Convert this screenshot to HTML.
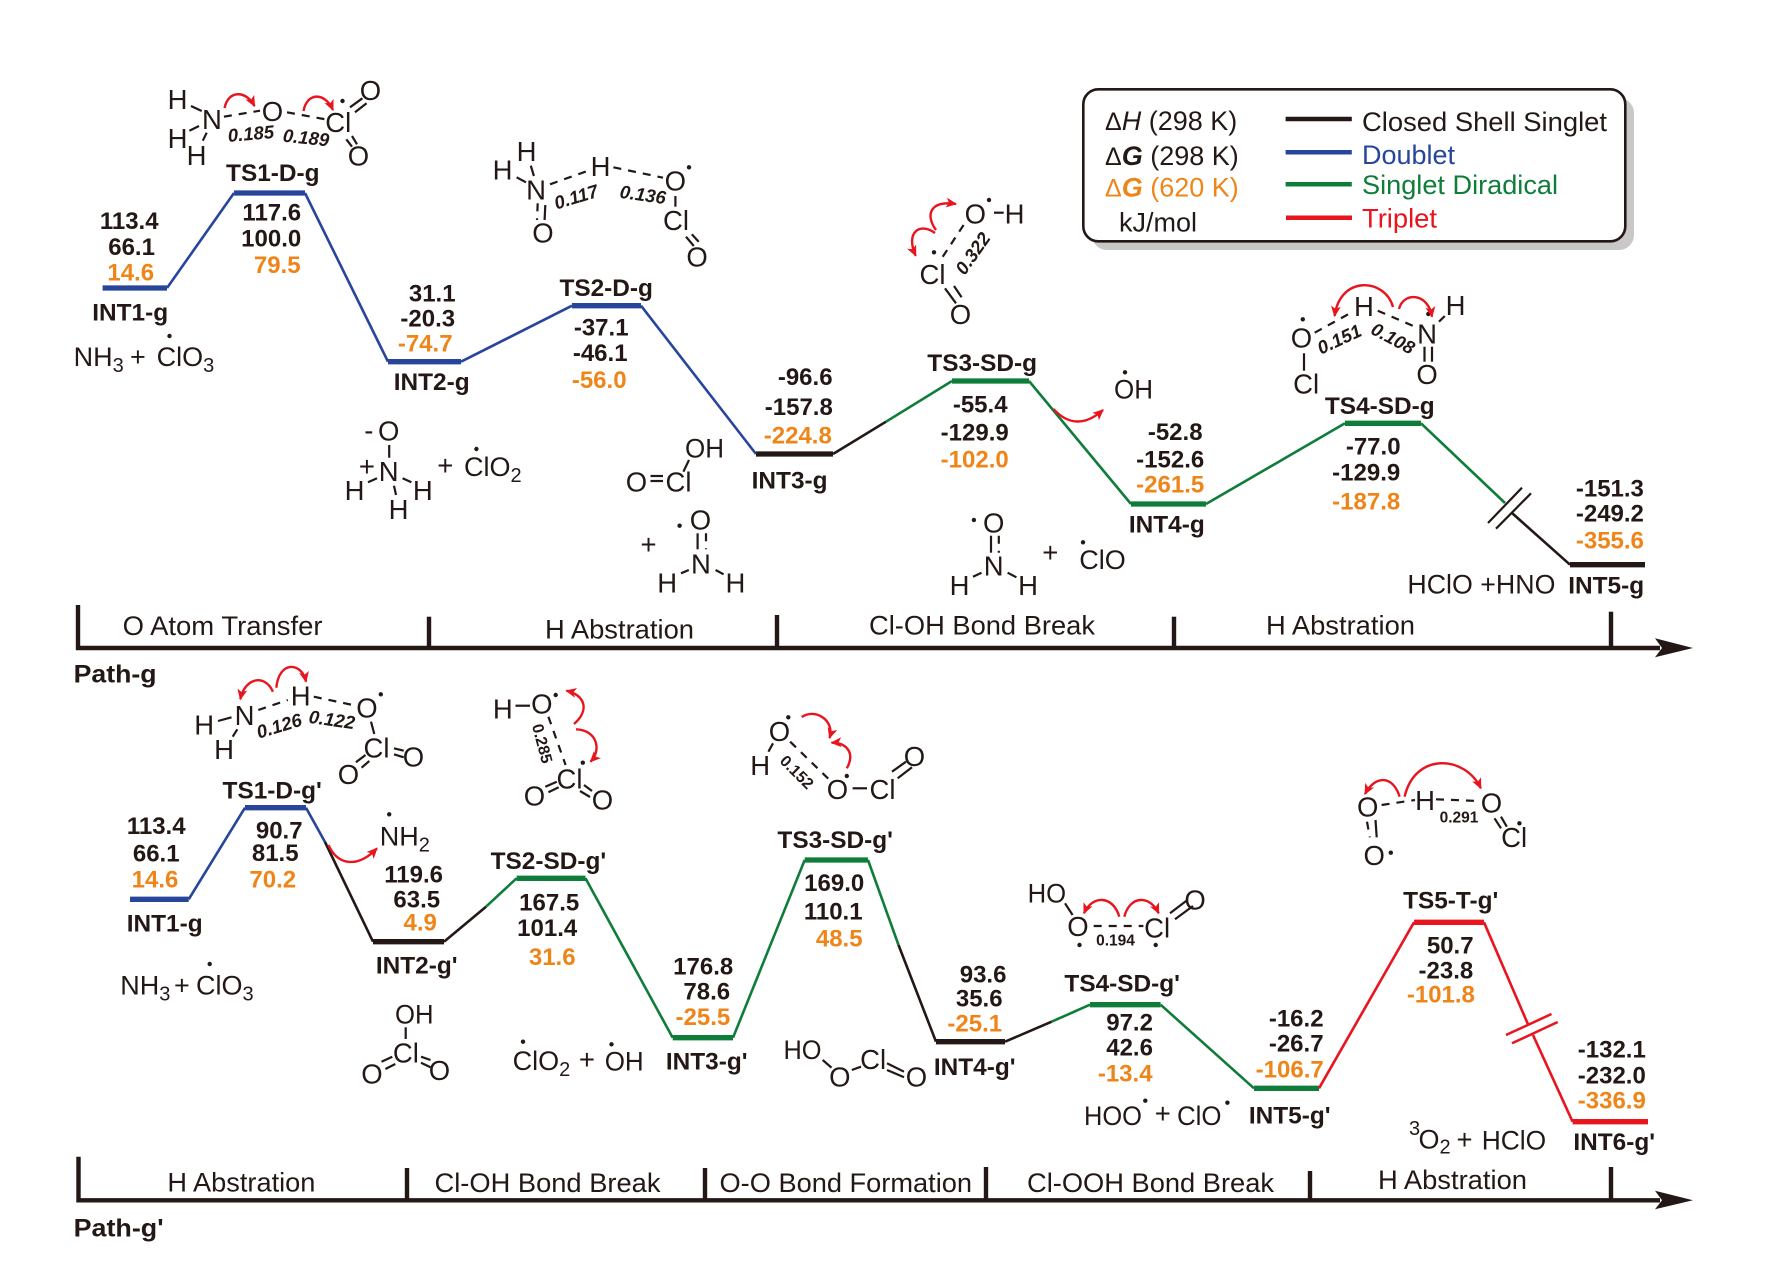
<!DOCTYPE html>
<html><head><meta charset="utf-8"><style>
html,body{margin:0;padding:0;background:#fff;width:1771px;height:1264px;overflow:hidden}
svg{display:block}
text{font-family:"Liberation Sans",sans-serif;fill:#231815}
.v{font-size:24px;font-weight:bold;text-anchor:middle;transform:translateX(-0.8px)}
.o{fill:#ef8519}
.l{font-size:24.4px;font-weight:bold;text-anchor:middle;transform:translateX(-0.8px)}
.a{font-size:27.5px;text-anchor:middle;transform:translateX(-0.5px)}
.t{font-size:27px;transform:translateX(-1px)}
.s{font-size:18.5px;font-weight:bold;font-style:italic;text-anchor:middle}
.s2{font-size:15.5px;font-weight:bold;text-anchor:middle}
.b{stroke:#231815;stroke-width:2.2;fill:none}
.d{stroke:#231815;stroke-width:2.2;fill:none;stroke-dasharray:8 7}
.r{stroke:#e8141e;stroke-width:2.4;fill:none;marker-end:url(#m)}
.bar{stroke-width:5.3;fill:none}
.c{stroke-width:2.6;fill:none;stroke-linejoin:round}
.k{stroke:#231815}.bl{stroke:#27459b}.g{stroke:#0f7d3a}.rd{stroke:#e8141e}
.ax{stroke:#231815;stroke-width:4.4;fill:none}
</style></head><body>
<svg xmlns="http://www.w3.org/2000/svg" width="1771" height="1264" viewBox="0 0 1771 1264">
<defs><marker id="m" viewBox="0 0 10 10" refX="9" refY="5" markerWidth="11" markerHeight="11" markerUnits="userSpaceOnUse" orient="auto"><path d="M0 0.5L10 5L0 9.5L2.5 5Z" fill="#e8141e"/></marker></defs>

<!-- Legend -->
<rect x="1092" y="98" width="542" height="152" rx="15" fill="#c9c7c7"/>
<rect x="1083.3" y="89.3" width="542" height="152" rx="15" fill="#fff" stroke="#231815" stroke-width="2.6"/>
<text class="t" x="1106" y="130"><tspan font-size="25">Δ</tspan><tspan font-style="italic">H</tspan> (298 K)</text>
<text class="t" x="1106" y="165"><tspan font-size="25">Δ</tspan><tspan font-style="italic" font-weight="bold">G</tspan> (298 K)</text>
<text class="t o" x="1106" y="196.7"><tspan font-size="25" class="o">Δ</tspan><tspan font-style="italic" font-weight="bold" class="o">G</tspan> (620 K)</text>
<text class="t" x="1120" y="231.7">kJ/mol</text>
<line x1="1285.6" x2="1351.8" y1="119" y2="119" stroke="#231815" stroke-width="4.5"/>
<line x1="1285.6" x2="1351.8" y1="152.3" y2="152.3" stroke="#27459b" stroke-width="4.5"/>
<line x1="1285.6" x2="1351.8" y1="184.3" y2="184.3" stroke="#0f7d3a" stroke-width="4.5"/>
<line x1="1286" x2="1352" y1="217.7" y2="217.7" stroke="#e8141e" stroke-width="4.5"/>
<text class="t" x="1363" y="131" textLength="245" lengthAdjust="spacingAndGlyphs">Closed Shell Singlet</text>
<text class="t" x="1363" y="164" style="fill:#27459b" textLength="93" lengthAdjust="spacingAndGlyphs">Doublet</text>
<text class="t" x="1363" y="194" style="fill:#0f7d3a" textLength="196" lengthAdjust="spacingAndGlyphs">Singlet Diradical</text>
<text class="t" x="1363" y="227.3" style="fill:#e8141e" textLength="75" lengthAdjust="spacingAndGlyphs">Triplet</text>

<!-- Upper profile -->
<line class="bar bl" x1="102.6" x2="167" y1="288" y2="288"/>
<line class="bar bl" x1="234" x2="305" y1="193" y2="193"/>
<line class="bar bl" x1="388" x2="461" y1="361.7" y2="361.7"/>
<line class="bar bl" x1="572" x2="641" y1="305.7" y2="305.7"/>
<line class="bar k" x1="756" x2="833" y1="454" y2="454"/>
<line class="bar g" x1="952" x2="1029" y1="381" y2="381"/>
<line class="bar g" x1="1131" x2="1206" y1="504" y2="504"/>
<line class="bar g" x1="1345" x2="1421" y1="423.3" y2="423.3"/>
<line class="bar k" x1="1570" x2="1645" y1="564.7" y2="564.7"/>
<polyline class="c bl" points="167,288 234,193"/>
<polyline class="c bl" points="305,193 388,361.7"/>
<polyline class="c bl" points="461,361.7 572,305.7"/>
<polyline class="c bl" points="641,305.7 756,454"/>
<polyline class="c k" points="833,454 886,421.7"/>
<polyline class="c g" points="886,421.7 952,381"/>
<polyline class="c g" points="1029,381 1131,504"/>
<polyline class="c g" points="1206,504 1345,423.3"/>
<polyline class="c g" points="1421,423.3 1505,503"/>
<polyline class="c k" points="1512,513 1570,564.7"/>
<line class="b" x1="1488" y1="523" x2="1522" y2="487.7" stroke-width="2.5"/>
<line class="b" x1="1496" y1="528.7" x2="1531" y2="493.3" stroke-width="2.5"/>

<!-- Upper axis -->
<polyline class="ax" points="78,605 78,648 1660,648"/>
<line class="ax" x1="429" x2="429" y1="616.7" y2="648"/>
<line class="ax" x1="777" x2="777" y1="615" y2="648"/>
<line class="ax" x1="1174" x2="1174" y1="616.7" y2="648"/>
<line class="ax" x1="1611" x2="1611" y1="611.7" y2="648"/>
<path d="M1693 648L1655 638.3L1662 648L1655 657.3Z" fill="#231815"/>
<text class="t" x="123.6" y="635" textLength="200" lengthAdjust="spacingAndGlyphs">O Atom Transfer</text>
<text class="t" x="546" y="638.3" textLength="149" lengthAdjust="spacingAndGlyphs">H Abstration</text>
<text class="t" x="870" y="634.3" textLength="226" lengthAdjust="spacingAndGlyphs">Cl-OH Bond Break</text>
<text class="t" x="1267" y="634.3" textLength="149" lengthAdjust="spacingAndGlyphs">H Abstration</text>
<text x="73.6" y="682.7" font-size="25" font-weight="bold" textLength="83" lengthAdjust="spacingAndGlyphs">Path-g</text>

<!-- Upper labels -->
<text class="v" x="130" y="229">113.4</text><text class="v" x="132.4" y="255">66.1</text><text class="v o" x="131.5" y="280.7">14.6</text>
<text class="l" x="131" y="320.7">INT1-g</text>
<text class="l" x="273.6" y="181">TS1-D-g</text>
<text class="v" x="272.6" y="220.7">117.6</text><text class="v" x="272" y="246.7">100.0</text><text class="v o" x="278" y="273">79.5</text>
<text class="v" x="433" y="301.7">31.1</text><text class="v" x="428.6" y="326.7">-20.3</text><text class="v o" x="426" y="351.7">-74.7</text>
<text class="l" x="432.5" y="390">INT2-g</text>
<text class="l" x="607" y="296">TS2-D-g</text>
<text class="v" x="602" y="335.7">-37.1</text><text class="v" x="601" y="361">-46.1</text><text class="v o" x="600" y="388">-56.0</text>
<text class="v" x="806" y="385">-96.6</text><text class="v" x="799.6" y="415">-157.8</text><text class="v o" x="798.6" y="443.3">-224.8</text>
<text class="l" x="790.4" y="488.3">INT3-g</text>
<text class="l" x="983" y="371">TS3-SD-g</text>
<text class="v" x="981" y="412.7">-55.4</text><text class="v" x="975.5" y="440.7">-129.9</text><text class="v o" x="975.5" y="467.3">-102.0</text>
<text class="v" x="1176" y="440">-52.8</text><text class="v" x="1171" y="467.7">-152.6</text><text class="v o" x="1171" y="492.3">-261.5</text>
<text class="l" x="1167.6" y="532.7">INT4-g</text>
<text class="l" x="1380.6" y="414">TS4-SD-g</text>
<text class="v" x="1374" y="454.3">-77.0</text><text class="v" x="1367" y="480.7">-129.9</text><text class="v o" x="1367" y="509.3">-187.8</text>
<text class="v" x="1610.7" y="496.7">-151.3</text><text class="v" x="1610.7" y="521.7">-249.2</text><text class="v o" x="1610.7" y="548.3">-355.6</text>
<text class="l" x="1607" y="593.3">INT5-g</text>
<text class="t" x="1408.4" y="593.3" textLength="148" lengthAdjust="spacingAndGlyphs">HClO +HNO</text>

<!-- NH3 + ClO3 upper -->
<text class="t" x="74.6" y="366">NH<tspan dy="6" font-size="20">3</tspan></text>
<text class="t" x="131" y="366">+</text>
<text class="t" x="157.6" y="366">ClO<tspan dy="6" font-size="20">3</tspan></text>
<circle cx="169.5" cy="336" r="2.2" fill="#231815"/>

<!-- TS1-D-g molecule -->
<g>
<text class="a" x="178" y="109">H</text><text class="a" x="212.4" y="129">N</text><text class="a" x="178" y="148">H</text><text class="a" x="197" y="165">H</text>
<text class="a" x="273" y="121">O</text><text class="a" x="338.7" y="132">Cl</text><text class="a" x="371" y="100">O</text><text class="a" x="359" y="165.7">O</text>
<line class="b" x1="191" y1="106" x2="201.7" y2="111"/><line class="b" x1="189.4" y1="130.7" x2="199" y2="126"/><line class="b" x1="206.7" y1="132.7" x2="202.8" y2="140.7"/>
<line class="d" x1="223.9" y1="116.7" x2="260" y2="110.7"/><line class="d" x1="287" y1="112.3" x2="325.3" y2="119.3"/>
<line class="b" x1="350" y1="107.3" x2="362.4" y2="98.3"/><line class="b" x1="355" y1="112.3" x2="366.6" y2="103.3"/>
<line class="b" x1="346.3" y1="139.3" x2="352" y2="146.7"/><line class="b" x1="352" y1="136" x2="357" y2="144.3"/>
<circle cx="342.5" cy="101" r="2.2" fill="#231815"/>
<text class="s" transform="translate(251.4,140) rotate(-5)">0.185</text>
<text class="s" transform="translate(305.4,144) rotate(6)">0.189</text>
<path class="r" d="M224.6 108C228 90 246 90 254.5 106"/>
<path class="r" d="M303.5 111C307 92 325 92 333 110"/>
</g>

<!-- TS2-D-g molecule -->
<g>
<text class="a" x="527" y="161">H</text><text class="a" x="503" y="179.3">H</text><text class="a" x="536.5" y="199.3">N</text><text class="a" x="543.4" y="242.7">O</text>
<text class="a" x="601" y="176">H</text><text class="a" x="675.8" y="190.7">O</text><text class="a" x="676.5" y="230">Cl</text><text class="a" x="697.6" y="266.7">O</text>
<circle cx="689" cy="167.3" r="2.2" fill="#231815"/>
<line class="b" x1="530.8" y1="165.7" x2="533.9" y2="176"/><line class="b" x1="516.6" y1="177.3" x2="526" y2="182.3"/>
<line class="d" x1="537.7" y1="203.3" x2="537" y2="220"/><line class="b" x1="545.3" y1="205" x2="544.6" y2="220"/>
<line class="d" x1="550" y1="184.3" x2="588.2" y2="170.7"/><line class="d" x1="613.4" y1="167.3" x2="663" y2="177.7"/>
<line class="b" x1="675.4" y1="196" x2="675.4" y2="206.7"/>
<line class="b" x1="686" y1="236.7" x2="693.8" y2="246"/><line class="b" x1="691.8" y1="234.3" x2="698.7" y2="241.7"/>
<text class="s" transform="translate(578,203) rotate(-17)">0.117</text>
<text class="s" transform="translate(642,201) rotate(8)">0.136</text>
</g>

<!-- TS3-SD-g molecule -->
<g>
<text class="a" x="975.8" y="223.3">O</text><text class="a" x="1015" y="223.3">H</text>
<line class="b" x1="994" y1="212.7" x2="1003.7" y2="212.7"/><circle cx="989" cy="200" r="2.2" fill="#231815"/>
<line class="d" x1="963.6" y1="225" x2="941.7" y2="258.3"/>
<text class="a" x="933" y="284">Cl</text><circle cx="934" cy="252.3" r="2.2" fill="#231815"/>
<line class="b" x1="945" y1="288.3" x2="956" y2="303.3"/><line class="b" x1="954" y1="286" x2="961.6" y2="297.3"/>
<text class="a" x="961" y="324">O</text>
<text class="s" transform="translate(978,257) rotate(-55)">0.322</text>
<path class="r" d="M936 230C925 215 930 200 956 204"/>
<path class="r" d="M935 233C920 222 905 232 915.7 255.7"/>
</g>
<text class="t" x="1115" y="398.3" textLength="39" lengthAdjust="spacingAndGlyphs">OH</text><circle cx="1125" cy="372.3" r="2.2" fill="#231815"/>
<path class="r" d="M1053.5 409C1068 425 1085 426 1103 410"/>

<!-- TS4-SD-g molecule -->
<g>
<text class="a" x="1302" y="347.7">O</text><circle cx="1302.8" cy="319.3" r="2.2" fill="#231815"/>
<text class="a" x="1306.6" y="393.3">Cl</text><line class="b" x1="1304" y1="353.3" x2="1304" y2="370.7"/>
<line class="d" x1="1314.7" y1="332.7" x2="1351.8" y2="312.3"/>
<text class="a" x="1364.4" y="316">H</text>
<line class="d" x1="1377.8" y1="310.7" x2="1415" y2="326.7"/>
<text class="a" x="1427.6" y="343.3">N</text><circle cx="1428.3" cy="314" r="2.2" fill="#231815"/>
<line class="b" x1="1439" y1="321.7" x2="1444.8" y2="316"/>
<text class="a" x="1456" y="315">H</text>
<line class="b" x1="1424.5" y1="346.7" x2="1424.5" y2="361.7"/><line class="b" x1="1432" y1="346.7" x2="1432" y2="361.7"/>
<text class="a" x="1427.6" y="384">O</text>
<text class="s" transform="translate(1342,345) rotate(-25)">0.151</text>
<text class="s" transform="translate(1390,344) rotate(28)">0.108</text>
<path class="r" d="M1393 307C1385 278 1340 275 1334.6 316"/>
<path class="r" d="M1399 309C1403 292 1428 292 1432 316.7"/>
</g>

<!-- NH3O+ + ClO2 -->
<g>
<text class="a" x="369.3" y="440">-</text><text class="a" x="389.2" y="440.7">O</text>
<line class="b" x1="389.2" y1="445" x2="389.2" y2="457.7"/>
<text class="a" x="389.2" y="481">N</text><text class="a" x="367.4" y="476">+</text>
<text class="a" x="355" y="500">H</text><text class="a" x="423.3" y="500">H</text><text class="a" x="399" y="519">H</text>
<line class="b" x1="368" y1="482.3" x2="377" y2="478.3"/><line class="b" x1="402.6" y1="478.3" x2="411.4" y2="482.3"/><line class="b" x1="394" y1="485.7" x2="396" y2="495"/>
<text class="a" x="445.8" y="475">+</text>
<text class="t" x="465" y="476">ClO<tspan dy="6" font-size="20">2</tspan></text><circle cx="476.4" cy="449" r="2.2" fill="#231815"/>
</g>

<!-- HOClO + HNO -->
<g>
<text class="t" x="686" y="457.7" textLength="39" lengthAdjust="spacingAndGlyphs">OH</text>
<text class="a" x="637" y="491.7">O</text><text class="a" x="679" y="491.7">Cl</text>
<line class="b" x1="650.5" y1="476" x2="663" y2="476"/><line class="b" x1="650.5" y1="481" x2="663" y2="481"/>
<line class="b" x1="683.4" y1="471.7" x2="689" y2="460"/>
<text class="a" x="649" y="554">+</text>
<circle cx="679.6" cy="525.7" r="2.2" fill="#231815"/>
<text class="a" x="701" y="529.3">O</text>
<line class="b" x1="697.6" y1="533.3" x2="697.6" y2="549.3"/><line class="d" x1="706" y1="533.3" x2="706" y2="549.3"/>
<text class="a" x="701.4" y="573.3">N</text><text class="a" x="667.7" y="592.3">H</text><text class="a" x="735.9" y="592.3">H</text>
<line class="b" x1="681" y1="573.3" x2="688.8" y2="570"/><line class="b" x1="715.6" y1="570" x2="723.6" y2="574.3"/>
</g>
<g>
<circle cx="973.9" cy="520" r="2.2" fill="#231815"/>
<text class="a" x="994.2" y="532.3">O</text>
<line class="b" x1="991" y1="535.7" x2="991" y2="552.7"/><line class="d" x1="998.8" y1="535.7" x2="998.8" y2="552.7"/>
<text class="a" x="994.2" y="575.7">N</text><text class="a" x="960" y="595">H</text><text class="a" x="1028.6" y="595">H</text>
<line class="b" x1="973" y1="576.7" x2="981.5" y2="572.7"/><line class="b" x1="1007.6" y1="572.7" x2="1016.4" y2="577.3"/>
<text class="a" x="1050.8" y="562">+</text>
<text class="t" x="1080.3" y="569">ClO</text><circle cx="1083" cy="542.3" r="2.2" fill="#231815"/>
</g>

<!-- Lower profile -->
<line class="bar bl" x1="130" x2="188.7" y1="899.3" y2="899.3"/>
<line class="bar bl" x1="245" x2="306" y1="807.7" y2="807.7"/>
<line class="bar k" x1="373" x2="444" y1="941.7" y2="941.7"/>
<line class="bar g" x1="516.6" x2="585.5" y1="878.3" y2="878.3"/>
<line class="bar g" x1="672.7" x2="733" y1="1037.7" y2="1037.7"/>
<line class="bar g" x1="804.7" x2="868" y1="860" y2="860"/>
<line class="bar k" x1="936" x2="1005" y1="1041.7" y2="1041.7"/>
<line class="bar g" x1="1090" x2="1160.6" y1="1004.7" y2="1004.7"/>
<line class="bar g" x1="1254" x2="1319" y1="1088.3" y2="1088.3"/>
<line class="bar rd" x1="1414" x2="1484" y1="922.3" y2="922.3"/>
<line class="bar rd" x1="1572.6" x2="1648" y1="1121.7" y2="1121.7"/>
<polyline class="c bl" points="188.7,899.3 245,807.7"/>
<polyline class="c bl" points="306,807.7 325,842"/>
<polyline class="c k" points="325,842 373,941.7"/>
<polyline class="c k" points="444,941.7 486,906.7"/>
<polyline class="c g" points="486,906.7 516.6,878.3"/>
<polyline class="c g" points="585.5,878.3 672.7,1037.7"/>
<polyline class="c g" points="733,1037.7 804.7,860"/>
<polyline class="c g" points="868,860 898.5,945"/>
<polyline class="c k" points="898.5,945 936,1041.7"/>
<polyline class="c k" points="1005,1041.7 1051.6,1021.7"/>
<polyline class="c g" points="1051.6,1021.7 1090,1004.7"/>
<polyline class="c g" points="1160.6,1004.7 1254,1088.3"/>
<polyline class="c rd" points="1319,1088.3 1414,922.3"/>
<polyline class="c rd" points="1484,922.3 1528,1024.3"/>
<polyline class="c rd" points="1533,1035 1572.6,1121.7"/>
<line class="rd" stroke-width="2.5" x1="1506" y1="1035" x2="1551.5" y2="1014"/>
<line class="rd" stroke-width="2.5" x1="1512" y1="1043.3" x2="1557.7" y2="1022"/>

<!-- Lower axis -->
<polyline class="ax" points="78.5,1156.7 78.5,1200.3 1660,1200.3"/>
<line class="ax" x1="407" x2="407" y1="1168" y2="1200"/>
<line class="ax" x1="705" x2="705" y1="1168" y2="1200"/>
<line class="ax" x1="986" x2="986" y1="1167" y2="1200"/>
<line class="ax" x1="1310" x2="1310" y1="1171" y2="1200"/>
<line class="ax" x1="1611" x2="1611" y1="1167" y2="1200"/>
<path d="M1693 1200.3L1655 1190.7L1662 1200.3L1655 1209.3Z" fill="#231815"/>
<text class="t" x="168.4" y="1191.7" textLength="148" lengthAdjust="spacingAndGlyphs">H Abstration</text>
<text class="t" x="435.5" y="1192" textLength="226" lengthAdjust="spacingAndGlyphs">Cl-OH Bond Break</text>
<text class="t" x="720.5" y="1192" textLength="252.5" lengthAdjust="spacingAndGlyphs">O-O Bond Formation</text>
<text class="t" x="1028" y="1192" textLength="247" lengthAdjust="spacingAndGlyphs">Cl-OOH Bond Break</text>
<text class="t" x="1379" y="1189" textLength="149" lengthAdjust="spacingAndGlyphs">H Abstration</text>
<text x="73.6" y="1236.7" font-size="25" font-weight="bold" textLength="90" lengthAdjust="spacingAndGlyphs">Path-g'</text>

<!-- Lower labels -->
<text class="v" x="157" y="834">113.4</text><text class="v" x="157" y="861.7">66.1</text><text class="v o" x="155.8" y="887.7">14.6</text>
<text class="l" x="165.5" y="931.7">INT1-g</text>
<text class="l" x="273" y="798.3">TS1-D-g'</text>
<text class="v" x="280" y="838.5">90.7</text><text class="v" x="276" y="861">81.5</text><text class="v o" x="273.6" y="887.7">70.2</text>
<text class="v" x="414.4" y="882.3">119.6</text><text class="v" x="417.6" y="907.7">63.5</text><text class="v o" x="421" y="930.7">4.9</text>
<text class="l" x="417.5" y="973.3">INT2-g'</text>
<text class="l" x="549.2" y="869">TS2-SD-g'</text>
<text class="v" x="550" y="910.7">167.5</text><text class="v" x="548" y="936">101.4</text><text class="v o" x="553" y="965">31.6</text>
<text class="v" x="704" y="974.3">176.8</text><text class="v" x="707.6" y="999.3">78.6</text><text class="v o" x="703.7" y="1025">-25.5</text>
<text class="l" x="707.5" y="1069.3">INT3-g'</text>
<text class="l" x="836" y="848">TS3-SD-g'</text>
<text class="v" x="835" y="891">169.0</text><text class="v" x="834" y="919.3">110.1</text><text class="v o" x="840" y="946.7">48.5</text>
<text class="v" x="983.9" y="982.7">93.6</text><text class="v" x="980" y="1006.7">35.6</text><text class="v o" x="975.6" y="1031.7">-25.1</text>
<text class="l" x="975.5" y="1075">INT4-g'</text>
<text class="l" x="1123" y="991.7">TS4-SD-g'</text>
<text class="v" x="1130.4" y="1030.7">97.2</text><text class="v" x="1130.4" y="1055.7">42.6</text><text class="v o" x="1126" y="1081.7">-13.4</text>
<text class="v" x="1297" y="1026.7">-16.2</text><text class="v" x="1297" y="1051.7">-26.7</text><text class="v o" x="1290.5" y="1077.3">-106.7</text>
<text class="l" x="1290.5" y="1123.3">INT5-g'</text>
<text class="l" x="1451.5" y="908.3">TS5-T-g'</text>
<text class="v" x="1451" y="953.3">50.7</text><text class="v" x="1446.7" y="978.3">-23.8</text><text class="v o" x="1441.7" y="1002.7">-101.8</text>
<text class="v" x="1612.6" y="1057.7">-132.1</text><text class="v" x="1612.6" y="1083.3">-232.0</text><text class="v o" x="1612.6" y="1108.3">-336.9</text>
<text class="l" x="1615" y="1150">INT6-g'</text>

<!-- small species lower -->
<text class="t" x="121.3" y="994.3">NH<tspan dy="6" font-size="20">3</tspan></text>
<text class="t" x="175" y="994.3">+</text>
<text class="t" x="197" y="994.3">ClO<tspan dy="6" font-size="20">3</tspan></text>
<circle cx="209.7" cy="964" r="2.2" fill="#231815"/>
<text class="t" x="380.8" y="845.5">NH<tspan dy="6" font-size="20">2</tspan></text><circle cx="389.2" cy="814.3" r="2.2" fill="#231815"/>
<path class="r" d="M328.4 845C338 866 358 868 377 848.3"/>

<g>
<text class="t" x="396" y="1023.3" textLength="38.5" lengthAdjust="spacingAndGlyphs">OH</text>
<line class="b" x1="405.7" y1="1027.3" x2="405.7" y2="1039"/>
<text class="a" x="406.4" y="1062.3">Cl</text><text class="a" x="372.4" y="1083.3">O</text><text class="a" x="440" y="1080">O</text>
<line class="b" x1="381.5" y1="1061.7" x2="392.3" y2="1056.7"/><line class="b" x1="385.4" y1="1069" x2="395.3" y2="1064"/>
<line class="b" x1="421" y1="1056.7" x2="430.5" y2="1060"/><line class="b" x1="421" y1="1062.7" x2="430.5" y2="1067.3"/>
</g>
<text class="t" x="513.6" y="1070">ClO<tspan dy="6" font-size="20">2</tspan></text><circle cx="523" cy="1041.7" r="2.2" fill="#231815"/>
<text class="a" x="587.4" y="1069">+</text>
<text class="t" x="605.7" y="1070.7" textLength="39" lengthAdjust="spacingAndGlyphs">OH</text><circle cx="611.5" cy="1044.3" r="2.2" fill="#231815"/>

<g>
<text class="t" x="784.5" y="1059" textLength="38" lengthAdjust="spacingAndGlyphs">HO</text>
<line class="b" x1="822.7" y1="1060" x2="831.5" y2="1067.7"/>
<text class="a" x="840.3" y="1086.7">O</text>
<line class="b" x1="851.8" y1="1070" x2="861" y2="1066.7"/>
<text class="a" x="873.6" y="1069">Cl</text>
<line class="b" x1="887" y1="1063.3" x2="904" y2="1071.7"/><line class="b" x1="887" y1="1070" x2="904" y2="1077.3"/>
<text class="a" x="916.9" y="1086.7">O</text>
</g>

<text class="t" x="1085" y="1125" textLength="58" lengthAdjust="spacingAndGlyphs">HOO</text><circle cx="1145.3" cy="1100.7" r="2.2" fill="#231815"/>
<text class="a" x="1163.3" y="1123">+</text>
<text class="t" x="1178" y="1125" textLength="44.5" lengthAdjust="spacingAndGlyphs">ClO</text><circle cx="1227.4" cy="1102.7" r="2.2" fill="#231815"/>

<text x="1409" y="1135" font-size="20">3</text>
<text class="t" x="1419.5" y="1148.3">O<tspan dy="5" font-size="20">2</tspan></text>
<text class="a" x="1465" y="1149">+</text>
<text class="t" x="1482.7" y="1149.3" textLength="64.5" lengthAdjust="spacingAndGlyphs">HClO</text>

<!-- TS1-D-g' molecule -->
<g>
<text class="a" x="301.2" y="705.7">H</text><text class="a" x="245" y="725">N</text><text class="a" x="204.7" y="734.3">H</text><text class="a" x="224.6" y="759">H</text>
<text class="a" x="367.4" y="717.7">O</text><circle cx="380.8" cy="694.3" r="2.2" fill="#231815"/>
<text class="a" x="377" y="757.3">Cl</text><text class="a" x="414" y="766.7">O</text><text class="a" x="349" y="784">O</text>
<line class="b" x1="218" y1="721" x2="231.5" y2="717.3"/><line class="b" x1="237.3" y1="729.3" x2="232.7" y2="736.7"/>
<line class="d" x1="258.3" y1="710" x2="287.8" y2="700"/><line class="d" x1="313.8" y1="696.7" x2="356" y2="705.7"/>
<line class="b" x1="371" y1="721.7" x2="374.3" y2="734"/>
<line class="b" x1="394" y1="748.3" x2="403.7" y2="750.7"/><line class="b" x1="394" y1="754.3" x2="403.7" y2="757.3"/>
<line class="b" x1="355.9" y1="762.3" x2="365.5" y2="755"/><line class="b" x1="361.6" y1="767.7" x2="369.3" y2="761"/>
<text class="s" transform="translate(281,732) rotate(-17)">0.126</text>
<text class="s" transform="translate(331,726) rotate(8)">0.122</text>
<path class="r" d="M272.9 691.7C265 674 245 677 240.3 699.3"/>
<path class="r" d="M276.3 687.7C279 660 302 662 306 681.7"/>
</g>

<!-- TS2-SD-g' molecule -->
<g>
<text class="a" x="503.3" y="718.3">H</text><line class="b" x1="515.5" y1="705.7" x2="530" y2="705.7"/>
<text class="a" x="542.3" y="713.3">O</text><circle cx="555.7" cy="695" r="2.2" fill="#231815"/>
<line class="d" x1="548.4" y1="716.7" x2="565.6" y2="765"/>
<text class="a" x="570" y="788.3">Cl</text><circle cx="582.8" cy="762.7" r="2.2" fill="#231815"/>
<text class="a" x="535" y="805.7">O</text><text class="a" x="603" y="809.7">O</text>
<line class="b" x1="545.3" y1="786.7" x2="556.8" y2="781.7"/><line class="b" x1="548.4" y1="792.3" x2="558.7" y2="787.3"/>
<line class="b" x1="584" y1="785" x2="592" y2="791"/><line class="b" x1="580" y1="791" x2="590" y2="797"/>
<text class="s" style="font-size:16px;font-style:normal" transform="translate(537,745) rotate(75)">0.285</text>
<path class="r" d="M574 724C590 710 585 695 566.4 690.7"/>
<path class="r" d="M576 729.3C597 730 602 750 590.5 761.7"/>
</g>

<!-- TS3-SD-g' molecule -->
<g>
<text class="a" x="779.9" y="741">O</text><circle cx="788.3" cy="717.3" r="2.2" fill="#231815"/>
<text class="a" x="760.7" y="775">H</text><line class="b" x1="773" y1="743.3" x2="768.4" y2="751.7"/>
<line class="d" x1="790.2" y1="741.7" x2="829.6" y2="780"/>
<text class="a" x="838" y="799">O</text><circle cx="846.8" cy="776" r="2.2" fill="#231815"/>
<line class="b" x1="852.6" y1="788.3" x2="867" y2="788.3"/>
<text class="a" x="883" y="799">Cl</text>
<line class="b" x1="892" y1="771.7" x2="906" y2="761.7"/><line class="b" x1="897.7" y1="778.3" x2="912" y2="767.3"/>
<text class="a" x="915" y="766">O</text>
<text class="s" style="font-size:16px;font-style:normal" transform="translate(793,776) rotate(45)">0.152</text>
<path class="r" d="M801.7 717C815 708 835 720 829.6 738"/>
<path class="r" d="M846.8 768.3C856 752 845 742 831.5 742.7"/>
</g>

<!-- TS4-SD-g' molecule -->
<g>
<text class="t" x="1028.6" y="902.3" textLength="38.5" lengthAdjust="spacingAndGlyphs">HO</text>
<line class="b" x1="1065" y1="903.3" x2="1072.6" y2="915"/>
<text class="a" x="1078.4" y="936">O</text>
<circle cx="1079.5" cy="945" r="2.2" fill="#231815"/><circle cx="1155.7" cy="945" r="2.2" fill="#231815"/>
<line class="d" x1="1093.7" y1="926" x2="1143.4" y2="926"/>
<text class="a" x="1157.6" y="937.3">Cl</text>
<line class="b" x1="1170" y1="913.3" x2="1187.4" y2="900"/><line class="b" x1="1175" y1="919.3" x2="1193" y2="906"/>
<text class="a" x="1195.6" y="909.3">O</text>
<text class="s2" x="1115.5" y="945.7">0.194</text>
<path class="r" d="M1119.3 916.7C1113 895 1092 895 1084 913.3"/>
<path class="r" d="M1124.3 916.7C1130 895 1150 895 1158.7 913.3"/>
</g>

<!-- TS5-T-g' molecule -->
<g>
<text class="a" x="1368.2" y="816.7">O</text>
<line class="d" x1="1381.6" y1="805" x2="1415" y2="800"/>
<text class="a" x="1425.6" y="810">H</text>
<line class="d" x1="1436" y1="799.3" x2="1479" y2="801"/>
<text class="a" x="1492" y="812.3">O</text>
<line class="b" x1="1494.5" y1="818.3" x2="1501" y2="828.3"/><line class="b" x1="1501" y1="816.7" x2="1506.8" y2="826.7"/>
<text class="a" x="1514.6" y="847">Cl</text><circle cx="1519.4" cy="823.3" r="2.2" fill="#231815"/>
<line class="d" x1="1367" y1="821.7" x2="1369.8" y2="837.3"/><line class="b" x1="1375.5" y1="820" x2="1376.7" y2="837.3"/>
<text class="a" x="1374.7" y="865">O</text><circle cx="1390.8" cy="852.7" r="2.2" fill="#231815"/>
<text class="s2" x="1459" y="822.3">0.291</text>
<path class="r" d="M1399.6 796.7C1393 775 1375 775 1365 794"/>
<path class="r" d="M1404.6 796.7C1415 752 1465 755 1480.8 788.3"/>
</g>
</svg>
</body></html>
